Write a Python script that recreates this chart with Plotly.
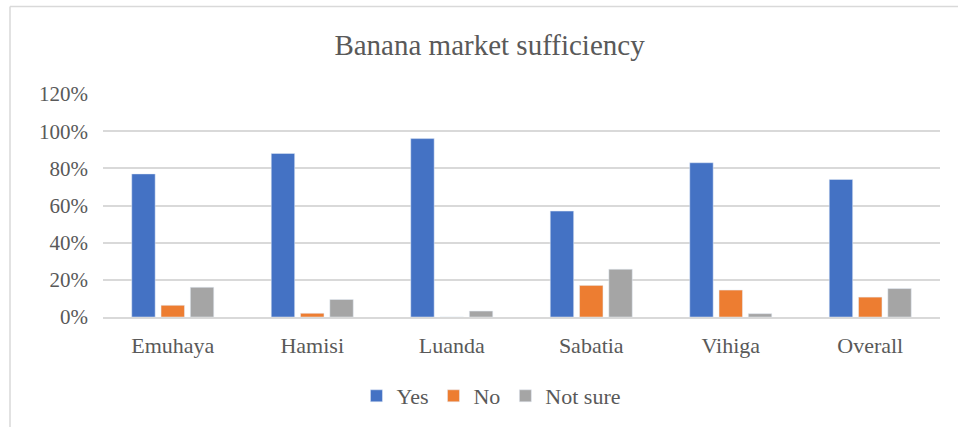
import plotly.graph_objects as go

categories = ["Emuhaya", "Hamisi", "Luanda", "Sabatia", "Vihiga", "Overall"]
yes_vals = [0.77, 0.88, 0.96, 0.57, 0.83, 0.74]
no_vals = [0.063, 0.02, 0.0, 0.17, 0.145, 0.107]
notsure_vals = [0.16, 0.094, 0.032, 0.257, 0.018, 0.153]
tick_vals = [0, 0.2, 0.4, 0.6, 0.8, 1.0, 1.2]
tick_text = ["0%", "20%", "40%", "60%", "80%", "100%", "120%"]

FONT = "Liberation Serif, Times New Roman, serif"
TXT = "#595959"

fig = go.Figure()
fig.add_trace(go.Bar(name="Yes", x=categories, y=yes_vals, marker_color="#4472C4"))
fig.add_trace(go.Bar(name="No", x=categories, y=no_vals, marker_color="#ED7D31"))
fig.add_trace(go.Bar(name="Not sure", x=categories, y=notsure_vals, marker_color="#A5A5A5"))

fig.update_layout(
    width=958, height=427,
    margin=dict(l=103, r=18, t=94, b=110),
    paper_bgcolor="white", plot_bgcolor="white",
    font=dict(family=FONT, color=TXT, size=21),
    title=dict(text="Banana market sufficiency", x=0.511, xanchor="center",
               y=1 - 45 / 427, yanchor="middle",
               font=dict(family=FONT, size=29, color=TXT)),
    barmode="group", bargap=0.37, bargroupgap=0.2,
    showlegend=True,
    legend=dict(orientation="h", x=0.513, xref="container", xanchor="center",
                y=1 - 396 / 427, yref="container", yanchor="middle",
                font=dict(family=FONT, size=22, color=TXT),
                traceorder="normal", itemwidth=30),
    xaxis=dict(showgrid=False, showline=True, linecolor="#D9D9D9", linewidth=1.5,
               ticks="", ticklabelstandoff=8,
               tickfont=dict(family=FONT, size=22, color=TXT)),
    yaxis=dict(range=[0, 1.2], tickvals=tick_vals, ticktext=tick_text,
               showgrid=True, gridcolor="#D9D9D9", gridwidth=1.5,
               zeroline=False, showline=False, ticks="", ticklabelstandoff=14,
               tickfont=dict(family=FONT, size=21, color=TXT)),
    shapes=[
        dict(type="line", xref="paper", yref="paper",
             x0=(10 - 103) / 837, x1=(958 - 103) / 837,
             y0=(317 - 6.5) / 223, y1=(317 - 6.5) / 223,
             line=dict(color="#D9D9D9", width=1.5)),
        dict(type="line", xref="paper", yref="paper",
             x0=(10 - 103) / 837, x1=(10 - 103) / 837,
             y0=(317 - 6.5) / 223, y1=(317 - 427) / 223,
             line=dict(color="#D9D9D9", width=1.5)),
    ],
)

fig.write_html("out.html")
